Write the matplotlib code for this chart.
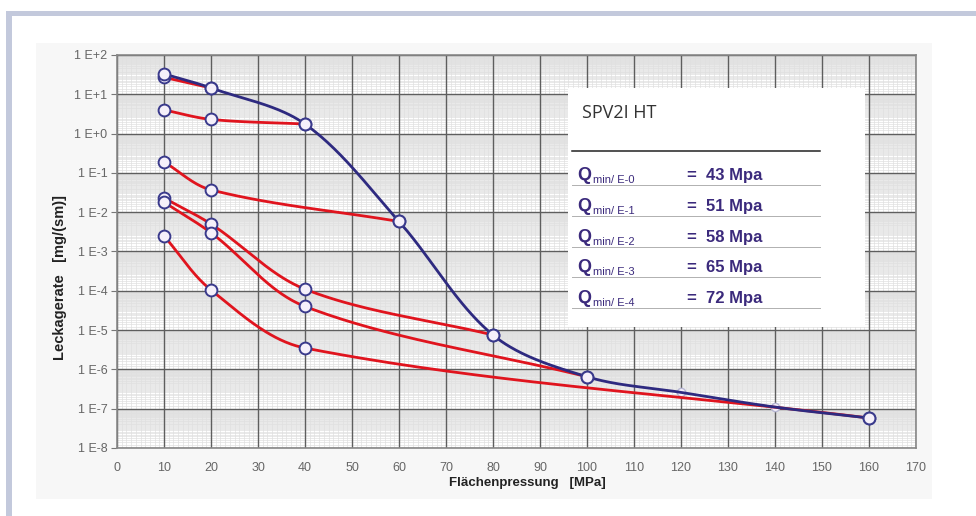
import numpy as np
import matplotlib.pyplot as plt
from matplotlib.patches import Rectangle
from matplotlib.lines import Line2D

# Daten: Flaechenpressung [MPa] / Leckagerate [mg/(sm)]
druck_blau = [10, 20, 40, 60, 80, 100, 120, 140, 160]
leck_blau = [33, 14.5, 1.75, 5.8e-3, 7.5e-6, 6.5e-7, 2.6e-7, 1.1e-7, 5.8e-8]

druck_r1 = [10, 20]
leck_r1 = [27, 14.5]
druck_r2 = [10, 20, 40]
leck_r2 = [4.0, 2.3, 1.75]
druck_r3 = [10, 20, 60]
leck_r3 = [0.19, 0.037, 5.8e-3]
druck_r4 = [10, 20, 40, 80]
leck_r4 = [0.023, 5.0e-3, 1.1e-4, 7.5e-6]
druck_r5 = [10, 20, 40, 100]
leck_r5 = [0.018, 3.0e-3, 4.0e-5, 6.5e-7]
druck_r6 = [10, 20, 40, 160]
leck_r6 = [2.5e-3, 1.05e-4, 3.5e-6, 5.8e-8]

y_ticks = [1e2, 1e1, 1e0, 1e-1, 1e-2, 1e-3, 1e-4, 1e-5, 1e-6, 1e-7, 1e-8]
y_labels = ["1 E+2", "1 E+1", "1 E+0", "1 E-1", "1 E-2", "1 E-3", "1 E-4",
            "1 E-5", "1 E-6", "1 E-7", "1 E-8"]

titel = "SPV2I HT"
q_index = ["E-0", "E-1", "E-2", "E-3", "E-4"]
q_werte = [43, 51, 58, 65, 72]

ROT = '#e0141e'
BLAU = '#2e2a80'
LILA = '#3b2a7c'
W, H = 976, 516


def glatt(xs, ys, n=60):
    # glatte Kurve (Catmull-Rom nach Sehnenlaenge) in x / log10(y)
    sx, sy = 4.7, 39.3
    p = np.column_stack([np.array(xs, float) * sx, np.log10(ys) * sy])
    d = np.hypot(*np.diff(p, axis=0).T)
    t = np.concatenate([[0], np.cumsum(d)])
    m = np.zeros_like(p)
    m[0] = (p[1] - p[0]) / d[0]
    m[-1] = (p[-1] - p[-2]) / d[-1]
    for i in range(1, len(p) - 1):
        m[i] = (p[i + 1] - p[i - 1]) / (t[i + 1] - t[i - 1])
    out = []
    for i in range(len(p) - 1):
        c1 = p[i] + m[i] * d[i] / 3
        c2 = p[i + 1] - m[i + 1] * d[i] / 3
        u = np.linspace(0, 1, n)[:, None]
        seg = (1 - u) ** 3 * p[i] + 3 * (1 - u) ** 2 * u * c1 + 3 * (1 - u) * u ** 2 * c2 + u ** 3 * p[i + 1]
        out.append(seg)
    out = np.vstack(out)
    return out[:, 0] / sx, 10 ** (out[:, 1] / sy)


def fx(px):
    return px / W


def fy(py):
    return 1 - py / H


fig = plt.figure(figsize=(9.76, 5.16), dpi=100)
fig.patch.set_facecolor('white')

# Rahmen und Diagrammflaeche
fig.add_artist(Rectangle((fx(6), fy(16)), fx(970), 5 / H, transform=fig.transFigure,
                         facecolor='#c3c9dc', edgecolor='none', zorder=-5))
fig.add_artist(Rectangle((fx(6), 0), 6 / W, fy(11), transform=fig.transFigure,
                         facecolor='#c3c9dc', edgecolor='none', zorder=-5))
fig.add_artist(Rectangle((fx(36), fy(499)), 896 / W, 456 / H, transform=fig.transFigure,
                         facecolor='#f7f7f7', edgecolor='none', zorder=-4))

ax = fig.add_axes([fx(117), fy(448), 799 / W, 393 / H])
ax.set_facecolor('white')
ax.set_yscale('log')
ax.set_xlim(0, 170)
ax.set_ylim(1e-8, 1e2)

ax.set_xticks(range(0, 171, 10))
ax.set_yticks(y_ticks)
ax.set_yticklabels(y_labels)
ax.minorticks_off()

# Millimeterpapier: feine Linien unter den Hauptlinien
moll = []
for e in range(-8, 2):
    for s in np.arange(1.2, 10, 0.2):
        moll.append(s * 10.0 ** e)
ax.hlines(moll, 0, 170, color='#e0e0e0', lw=0.5, zorder=0.2)
ax.vlines([v for v in range(1, 170) if v % 10], 1e-8, 1e2, color='#e0e0e0', lw=0.5, zorder=0.2)
ax.grid(which='major', color='#5e5e5e', lw=1.0)
ax.set_axisbelow(True)

ax.tick_params(axis='x', which='major', length=0, pad=10)
ax.tick_params(axis='y', which='major', length=4, color='#777', pad=3)
for lab in ax.get_xticklabels() + ax.get_yticklabels():
    lab.set_family(['Liberation Sans Narrow', 'Liberation Sans', 'DejaVu Sans'])
    lab.set_fontsize(9)
    lab.set_color('#666666')
for sp in ax.spines.values():
    sp.set_color('#888888')
    sp.set_linewidth(1.2)

# blasse Marker (liegen unter den Linien)
mk = dict(ls='none', marker='o', mfc='#f5f0fa')
ax.plot(druck_blau[6:8], leck_blau[6:8], ms=6, mec='#b7b7d3', mew=1.0, zorder=2, **mk)

# Kurven
for xs, ys in [(druck_r1, leck_r1), (druck_r2, leck_r2), (druck_r3, leck_r3),
               (druck_r4, leck_r4), (druck_r5, leck_r5), (druck_r6, leck_r6)]:
    gx, gy = glatt(xs, ys)
    ax.plot(gx, gy, color=ROT, lw=2.0, zorder=3, solid_capstyle='round')
gx, gy = glatt(druck_blau, leck_blau)
ax.plot(gx, gy, color=BLAU, lw=2.0, zorder=4, solid_capstyle='round')

# Marker
for xs, ys in [(druck_r1, leck_r1), (druck_r2, leck_r2), (druck_r3, leck_r3),
               (druck_r4, leck_r4), (druck_r5, leck_r5), (druck_r6, leck_r6)]:
    ax.plot(xs, ys, ms=8.5, mec='#3a3a8c', mew=1.4, zorder=5, **mk)
sel = [0, 1, 2, 3, 4, 5, 8]
ax.plot([druck_blau[i] for i in sel], [leck_blau[i] for i in sel],
        ms=8.5, mec='#3a3a8c', mew=1.4, zorder=5, **mk)

# Achsentitel
fig.text(fx(527), fy(483), "Flächenpressung   [MPa]", ha='center', va='center',
         fontsize=9.5, fontweight='bold', color='#222222',
         family=['Liberation Sans Narrow', 'Liberation Sans', 'DejaVu Sans'])
fig.text(fx(60), fy(277), "Leckagerate   [mg/(sm)]", ha='center', va='center',
         rotation=90, fontsize=10.5, fontweight='bold', color='#222222',
         family=['Liberation Sans', 'DejaVu Sans'])

# Textfeld
fig.add_artist(Rectangle((fx(568), fy(327)), 297 / W, 239 / H, transform=fig.transFigure,
                         facecolor='white', edgecolor='none', zorder=10))
fig.text(fx(582), fy(113), titel, ha='left', va='center', fontsize=13,
         color='#333333', family=['Open Sans', 'DejaVu Sans'], zorder=11)
fig.add_artist(Line2D([fx(572), fx(820)], [fy(151), fy(151)], transform=fig.transFigure,
                      color='#222222', lw=1.1, zorder=11))
for i in range(len(q_werte)):
    yb = 180 + i * 30.8
    fig.text(fx(577), fy(yb), "Q", ha='left', va='baseline', fontsize=13,
             fontweight='bold', color=LILA, family=['Liberation Sans', 'DejaVu Sans'], zorder=11)
    fig.text(fx(593), fy(yb + 3), "min/ " + q_index[i], ha='left', va='baseline', fontsize=8,
             color=LILA, family=['Liberation Sans', 'DejaVu Sans'], zorder=11)
    fig.text(fx(687), fy(yb), "=  %d Mpa" % q_werte[i], ha='left', va='baseline', fontsize=12,
             fontweight='bold', color=LILA, family=['Liberation Sans', 'DejaVu Sans'], zorder=11)
    fig.add_artist(Line2D([fx(572), fx(820)], [fy(yb + 5), fy(yb + 5)], transform=fig.transFigure,
                          color='#b0b0b0', lw=0.7, zorder=11))

fig.savefig('out.png', dpi=100)
